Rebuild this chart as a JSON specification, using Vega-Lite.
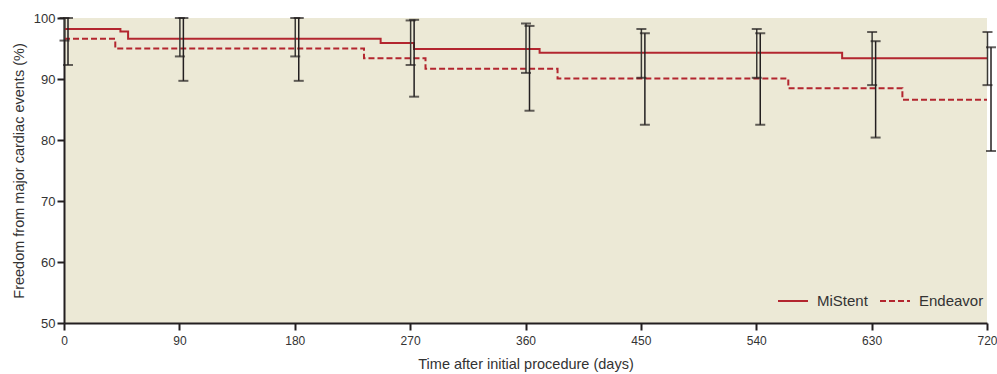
{
  "$schema": "https://vega.github.io/schema/vega-lite/v6.json",
  "autosize": {"type": "none"},
  "width": 923,
  "height": 305,
  "padding": {"left": 64, "top": 18, "right": 10, "bottom": 51},
  "background": "#ffffff",
  "config": {
    "view": {"fill": "#ece9d6", "stroke": null},
    "axis": {
      "grid": false,
      "domainColor": "#231f20",
      "domainWidth": 2,
      "tickColor": "#231f20",
      "tickWidth": 2,
      "tickSize": 7,
      "labelFont": "Liberation Sans, Arial, sans-serif",
      "labelFontSize": 12,
      "labelColor": "#333333",
      "titleFont": "Liberation Sans, Arial, sans-serif",
      "titleFontSize": 14.5,
      "titleFontWeight": "normal",
      "titleColor": "#333333"
    }
  },
  "datasets": {
    "lines": [
      {"series": "MiStent", "day": 0, "value": 98.2},
      {"series": "MiStent", "day": 44, "value": 97.8},
      {"series": "MiStent", "day": 50, "value": 96.6},
      {"series": "MiStent", "day": 247, "value": 95.9},
      {"series": "MiStent", "day": 273, "value": 94.9},
      {"series": "MiStent", "day": 371, "value": 94.3},
      {"series": "MiStent", "day": 607, "value": 93.4},
      {"series": "MiStent", "day": 720, "value": 93.4},
      {"series": "Endeavor", "day": 0, "value": 96.6},
      {"series": "Endeavor", "day": 40, "value": 95.0},
      {"series": "Endeavor", "day": 234, "value": 93.4},
      {"series": "Endeavor", "day": 282, "value": 91.7},
      {"series": "Endeavor", "day": 385, "value": 90.1},
      {"series": "Endeavor", "day": 565, "value": 88.5},
      {"series": "Endeavor", "day": 654, "value": 86.6},
      {"series": "Endeavor", "day": 720, "value": 86.6}
    ],
    "ci": [
      {"series": "MiStent", "day": 0, "lo": 96.3, "hi": 100},
      {"series": "MiStent", "day": 90, "lo": 93.7, "hi": 100},
      {"series": "MiStent", "day": 180, "lo": 93.7, "hi": 100},
      {"series": "MiStent", "day": 270, "lo": 92.3, "hi": 99.6},
      {"series": "MiStent", "day": 360, "lo": 91.0, "hi": 99.1},
      {"series": "MiStent", "day": 450, "lo": 90.2, "hi": 98.2},
      {"series": "MiStent", "day": 540, "lo": 90.2, "hi": 98.2},
      {"series": "MiStent", "day": 630, "lo": 89.0, "hi": 97.7},
      {"series": "MiStent", "day": 720, "lo": 89.0, "hi": 97.7},
      {"series": "Endeavor", "day": 0, "lo": 92.3, "hi": 100},
      {"series": "Endeavor", "day": 90, "lo": 89.7, "hi": 100},
      {"series": "Endeavor", "day": 180, "lo": 89.7, "hi": 100},
      {"series": "Endeavor", "day": 270, "lo": 87.1, "hi": 99.7},
      {"series": "Endeavor", "day": 360, "lo": 84.8, "hi": 98.7},
      {"series": "Endeavor", "day": 450, "lo": 82.5, "hi": 97.5},
      {"series": "Endeavor", "day": 540, "lo": 82.5, "hi": 97.5},
      {"series": "Endeavor", "day": 630, "lo": 80.4, "hi": 96.2},
      {"series": "Endeavor", "day": 720, "lo": 78.2, "hi": 95.2}
    ]
  },
  "encoding": {
    "x": {
      "field": "day",
      "type": "quantitative",
      "scale": {"domain": [0, 720], "nice": false, "zero": false},
      "axis": {
        "title": "Time after initial procedure (days)",
        "values": [0, 90, 180, 270, 360, 450, 540, 630, 720],
        "labelPadding": 5,
        "titlePadding": 11,
        "labelFlush": false
      }
    }
  },
  "layer": [
    {
      "data": {"name": "lines"},
      "mark": {"type": "line", "interpolate": "step-after", "strokeWidth": 2, "color": "#b3262f", "clip": false},
      "encoding": {
        "y": {
          "field": "value",
          "type": "quantitative",
          "scale": {"domain": [50, 100], "nice": false, "zero": false},
          "axis": {
            "title": "Freedom from major cardiac events (%)",
            "values": [50, 60, 70, 80, 90, 100],
            "labelFontSize": 13,
            "labelPadding": 2,
            "titlePadding": 7
          }
        },
        "strokeDash": {
          "field": "series",
          "type": "nominal",
          "scale": {"domain": ["MiStent", "Endeavor"], "range": [[1, 0], [6, 3]]},
          "legend": {
            "title": null,
            "orient": "none",
            "direction": "horizontal",
            "legendX": 713,
            "legendY": 267,
            "symbolType": "stroke",
            "symbolSize": 900,
            "symbolStrokeWidth": 2,
            "symbolStrokeColor": "#b3262f",
            "labelFont": "Liberation Sans, Arial, sans-serif",
            "labelFontSize": 15,
            "labelColor": "#333333",
            "labelOffset": 8,
            "columnPadding": 8
          }
        }
      }
    },
    {
      "data": {"name": "ci"},
      "transform": [{"filter": "datum.series === 'MiStent'"}],
      "layer": [
        {
          "mark": {"type": "rule", "color": "#3a3935", "strokeWidth": 1.5, "xOffset": 0.5},
          "encoding": {"y": {"field": "lo", "type": "quantitative"}, "y2": {"field": "hi"}}
        },
        {
          "mark": {"type": "tick", "orient": "horizontal", "color": "#231f20", "size": 10, "thickness": 2, "xOffset": 0.5},
          "encoding": {"y": {"field": "lo", "type": "quantitative"}}
        },
        {
          "mark": {"type": "tick", "orient": "horizontal", "color": "#231f20", "size": 10, "thickness": 2, "xOffset": 0.5},
          "encoding": {"y": {"field": "hi", "type": "quantitative"}}
        }
      ]
    },
    {
      "data": {"name": "ci"},
      "transform": [{"filter": "datum.series === 'Endeavor'"}],
      "layer": [
        {
          "mark": {"type": "rule", "color": "#231f20", "strokeWidth": 1.5, "xOffset": 4},
          "encoding": {"y": {"field": "lo", "type": "quantitative"}, "y2": {"field": "hi"}}
        },
        {
          "mark": {"type": "tick", "orient": "horizontal", "color": "#231f20", "size": 10, "thickness": 2, "xOffset": 4},
          "encoding": {"y": {"field": "lo", "type": "quantitative"}}
        },
        {
          "mark": {"type": "tick", "orient": "horizontal", "color": "#231f20", "size": 10, "thickness": 2, "xOffset": 4},
          "encoding": {"y": {"field": "hi", "type": "quantitative"}}
        }
      ]
    }
  ]
}
